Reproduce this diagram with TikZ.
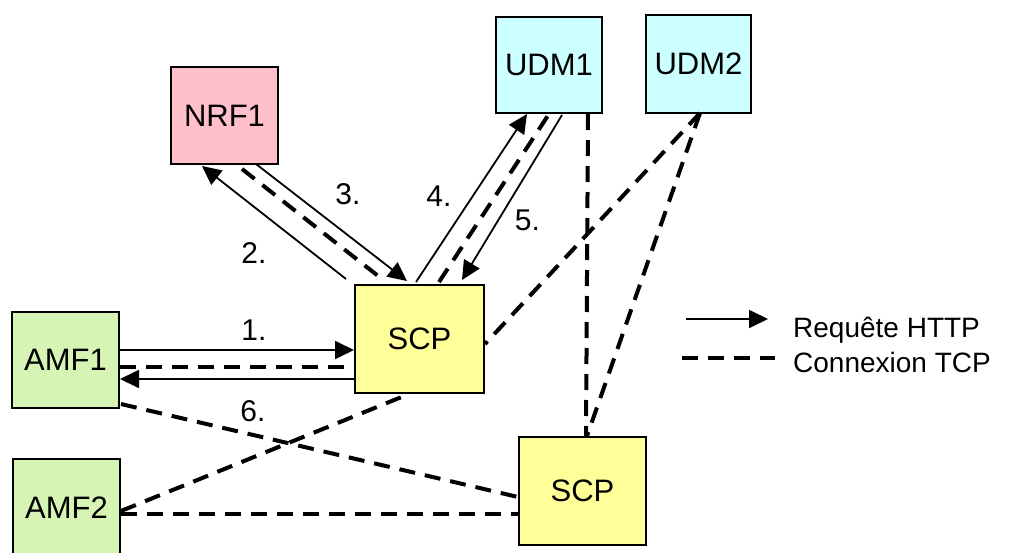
\documentclass[tikz,border=0pt]{standalone}
\usepackage{fontspec}
\setmainfont{Liberation Sans}
\usetikzlibrary{arrows.meta,calc}
\definecolor{nrfpink}{RGB}{255,192,203}
\definecolor{udmcyan}{RGB}{204,255,255}
\definecolor{scpyellow}{RGB}{255,255,153}
\definecolor{amfgreen}{RGB}{214,245,180}
\begin{document}
\begin{tikzpicture}[x=1pt,y=-1pt,
  nf/.style={draw=black, line width=2pt, font=\fontsize{31}{36}\selectfont, inner sep=0pt},
  req/.style={line width=1.8pt, -{Triangle[length=19pt,width=18pt]}},
  tcp/.style={line width=4pt, dash pattern=on 16pt off 10pt},
  lbl/.style={font=\fontsize{30}{36}\selectfont, inner sep=0pt},
  leg/.style={font=\fontsize{28}{34}\selectfont, inner sep=0pt, anchor=base west}]
\useasboundingbox (0,0) rectangle (1018,552);
\fill[white] (0,0) rectangle (1018,552);
% nodes
\node[nf, fill=nrfpink, minimum width=107pt, minimum height=97pt] (nrf) at (224.5,115.5) {NRF1};
\node[nf, fill=udmcyan, minimum width=106pt, minimum height=96pt] (udm1) at (549,65) {UDM1};
\node[nf, fill=udmcyan, minimum width=105pt, minimum height=98pt] (udm2) at (698.5,64) {UDM2};
\node[nf, fill=scpyellow, minimum width=129pt, minimum height=108pt] (scp1) at (419.5,339) {SCP};
\node[nf, fill=amfgreen, minimum width=107pt, minimum height=96pt] (amf1) at (65.5,360) {AMF1};
\node[nf, fill=amfgreen, minimum width=107pt, minimum height=97pt] (amf2) at (66.5,507.5) {AMF2};
\node[nf, fill=scpyellow, minimum width=127pt, minimum height=108pt] (scp2) at (582.5,491) {SCP};
% NRF1 <-> SCP
\draw[req] ($(scp1.north west)+(-8,-5)$) -- ($(nrf.south west)+(32,1)$);
\draw[tcp] ($(nrf.south west)+(72,4)$) -- ($(scp1.north west)+(28,-5)$);
\draw[req] ($(nrf.south west)+(86,-1)$) -- ($(scp1.north west)+(53,-3)$);
% SCP <-> UDM1
\draw[req] ($(scp1.north west)+(62,-2)$) -- ($(udm1.south west)+(32,0)$);
\draw[tcp] ($(scp1.north west)+(85,-2)$) -- ($(udm1.south west)+(54,0)$);
\draw[req] ($(udm1.south west)+(67,1)$) -- ($(scp1.north west)+(108,-4)$);
% other TCP
\draw[tcp] ($(udm1.south west)+(93,0)$) -- ($(scp2.north west)+(68,0)$);
\draw[tcp] ($(udm2.south west)+(55,-1)$) -- ($(scp1.north east)+(0,60)$);
\draw[tcp] ($(udm2.south west)+(55,-1)$) -- ($(scp2.north west)+(69,0)$);
% AMF1 <-> SCP
\draw[req] ($(amf1.north east)+(0,39)$) -- ($(scp1.north west)+(0,66)$);
\draw[tcp] ($(amf1.north east)+(0,56)$) -- ($(scp1.north west)+(0,83)$);
\draw[req] ($(scp1.north west)+(0,95)$) -- ($(amf1.north east)+(0,68)$);
\draw[tcp] ($(amf1.south east)+(1,-5)$) -- ($(scp2.north west)+(0,61)$);
% AMF2
\draw[tcp] ($(amf2.north east)+(0,53)$) -- ($(scp1.south west)+(55,0)$);
\draw[tcp] ($(amf2.north east)+(0,56)$) -- ($(scp2.north west)+(0,78)$);
% labels
\node[lbl] (l1) at (254,330) {1.};
\node[lbl] (l2) at (254,253) {2.};
\node[lbl] (l3) at (348,194) {3.};
\node[lbl] (l4) at (439,196) {4.};
\node[lbl] (l5) at (527.5,220) {5.};
\node[lbl] (l6) at (253,411.5) {6.};
% legend
\coordinate (la1) at (686,319);
\coordinate (la2) at (768,319);
\coordinate (ld1) at (682,358);
\coordinate (ld2) at (775,358);
\draw[req] (la1) -- (la2);
\draw[tcp] (ld1) -- (ld2);
\node[leg] (lt1) at (793,337) {Requête HTTP};
\node[leg] (lt2) at (793,372) {Connexion TCP};
\end{tikzpicture}
\end{document}
